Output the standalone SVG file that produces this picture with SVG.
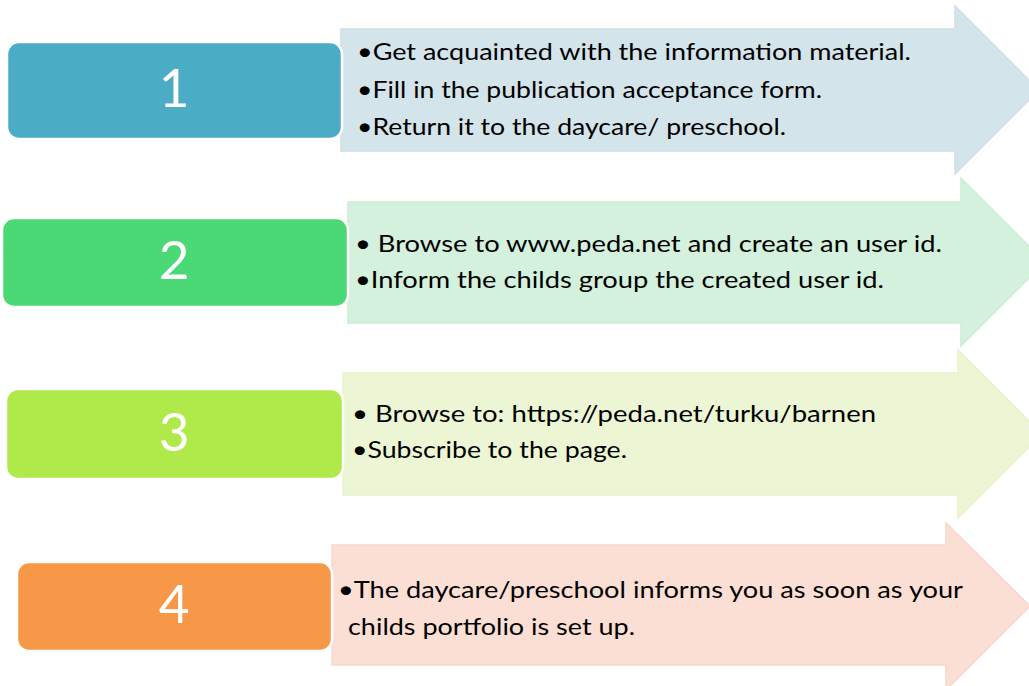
<svg xmlns="http://www.w3.org/2000/svg" width="1029" height="686" viewBox="0 0 1029 686">
<style>
.box{stroke:#ffffff;stroke-width:2.5}
.num{font-family:Lato,"Open Sans",sans-serif;font-size:53px;fill:#ffffff;text-anchor:middle}
.txt{font-family:Lato,"Open Sans",sans-serif;font-size:23.5px;fill:#000000}
.arr{stroke-width:1.5}
</style>
<rect width="1029" height="686" fill="#ffffff"/>
<g id="connectors">
<path class="arr" d="M341,29 H955 V6 L1039,90 L955,174 V151 H341 Z" fill="#D4E4EB" stroke="#CDDFE7"/>
<path class="arr" d="M348,202 H961 V178 L1045,262 L961,346 V323 H348 Z" fill="#D3F1DC" stroke="#CBEDD5"/>
<path class="arr" d="M343,373 H958 V350 L1042,434 L958,518 V495 H343 Z" fill="#EDF6D4" stroke="#E6F3CB"/>
<path class="arr" d="M332,545 H946 V523 L1030,606 L946,690 V665 H332 Z" fill="#FBDED4" stroke="#F9D6CA"/>
</g>
<g id="node1">
<rect class="box" x="7" y="42" width="335" height="97" rx="12" fill="#4BACC6"/>
<text class="num" x="174" y="107">1</text>
<text class="txt" x="357" y="60" textLength="554" lengthAdjust="spacingAndGlyphs">•Get acquainted with the information material.</text>
<text class="txt" x="357" y="98" textLength="465" lengthAdjust="spacingAndGlyphs">•Fill in the publication acceptance form.</text>
<text class="txt" x="357" y="135" textLength="429" lengthAdjust="spacingAndGlyphs">•Return it to the daycare/ preschool.</text>
</g>
<g id="node2">
<rect class="box" x="2" y="218" width="346" height="89" rx="12" fill="#4AD975"/>
<text class="num" x="174" y="279">2</text>
<text class="txt" x="355" y="252" textLength="587" lengthAdjust="spacingAndGlyphs">• Browse to www.peda.net and create an user id.</text>
<text class="txt" x="355" y="288" textLength="529" lengthAdjust="spacingAndGlyphs">•Inform the childs group the created user id.</text>
</g>
<g id="node3">
<rect class="box" x="6" y="389" width="337" height="90" rx="12" fill="#AFEA4A"/>
<text class="num" x="174" y="451">3</text>
<text class="txt" x="352" y="422" textLength="524" lengthAdjust="spacingAndGlyphs">• Browse to: https://peda.net/turku/barnen</text>
<text class="txt" x="352" y="458" textLength="275" lengthAdjust="spacingAndGlyphs">•Subscribe to the page.</text>
</g>
<g id="node4">
<rect class="box" x="17" y="562" width="315" height="89" rx="12" fill="#F79848"/>
<text class="num" x="174" y="623">4</text>
<text class="txt" x="338" y="598" textLength="625" lengthAdjust="spacingAndGlyphs">•The daycare/preschool informs you as soon as your</text>
<text class="txt" x="348" y="635" textLength="287" lengthAdjust="spacingAndGlyphs">childs portfolio is set up.</text>
</g>
</svg>
